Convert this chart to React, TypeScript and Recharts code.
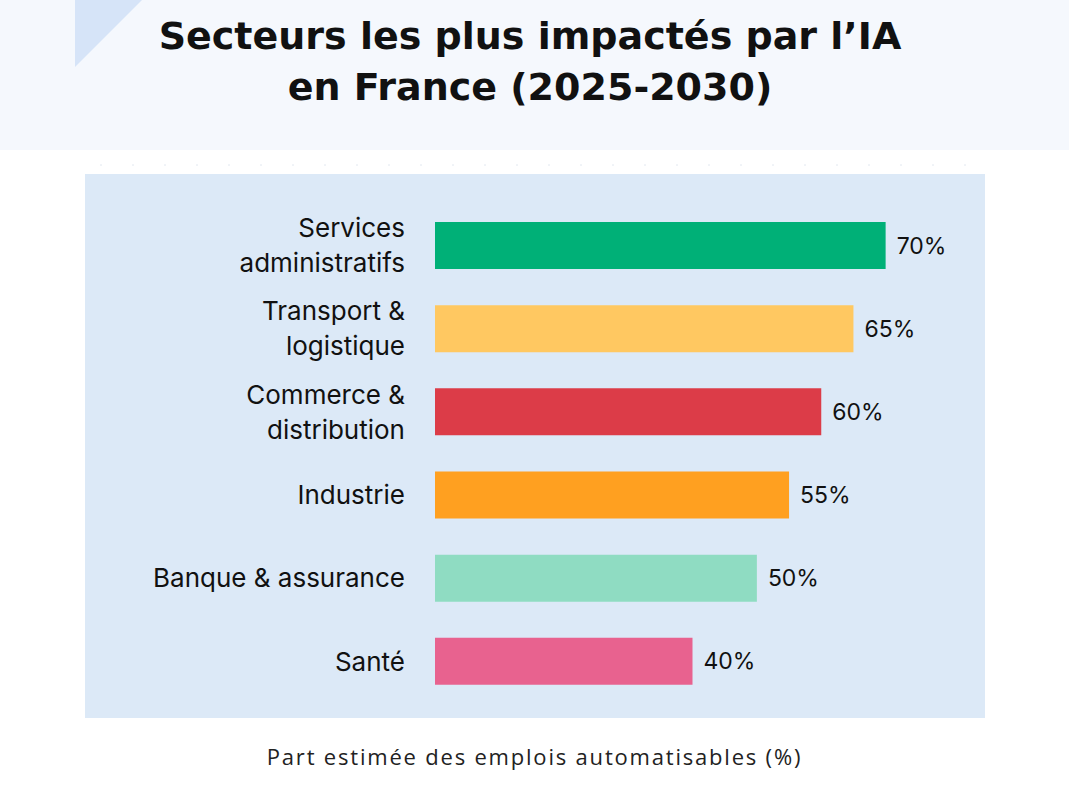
import React from 'react';
import { Bar, BarChart, Cell, LabelList, XAxis, YAxis } from 'recharts';

const sectors = [
  'Services\nadministratifs',
  'Transport &\nlogistique',
  'Commerce &\ndistribution',
  'Industrie',
  'Banque & assurance',
  'Santé',
];
const shares = [70, 65, 60, 55, 50, 40];
const barColors = ['#00b077', '#ffc861', '#dc3c48', '#ffa020', '#8fdcc2', '#e8628f'];

const data = sectors.map((name, i) => ({ name, value: shares[i] }));

const SectorTick = (props: any) => {
  const { x, y, payload } = props;
  const lines: string[] = String(payload.value).split('\n');
  const lineH = 35;
  const start = -((lines.length - 1) * lineH) / 2;
  return (
    <text
      x={x - 22}
      y={y}
      textAnchor="end"
      fontFamily="Inter, sans-serif"
      fontSize={26}
      fill="#111"
    >
      {lines.map((l, i) => (
        <tspan key={i} x={x - 22} y={y + start + i * lineH} dy="0.35em">
          {l}
        </tspan>
      ))}
    </text>
  );
};

export default function App() {
  return (
    <div
      style={{
        position: 'absolute',
        left: 0,
        top: 0,
        width: 1069,
        height: 786,
        background: '#fff',
        overflow: 'hidden',
      }}
    >
      {/* header band */}
      <div style={{ position: 'absolute', left: 0, top: 0, width: 1069, height: 150, background: '#f5f8fd' }} />
      <svg style={{ position: 'absolute', left: 0, top: 0 }} width={200} height={100}>
        <polygon points="75,0 142,0 75,67" fill="#d6e4f8" />
      </svg>
      <div
        style={{
          position: 'absolute',
          left: 0,
          top: 11,
          width: 1060,
          textAlign: 'center',
          fontFamily: '"DejaVu Sans", sans-serif',
          fontWeight: 700,
          fontSize: 38,
          lineHeight: '51px',
          color: '#111',
        }}
      >
        Secteurs les plus impactés par l’IA
        <br />
        en France (2025-2030)
      </div>
      <svg style={{ position: 'absolute', left: 0, top: 160 }} width={1069} height={10}>
        <line x1={100} y1={5} x2={985} y2={5} stroke="#e2e8f0" strokeWidth={1} strokeDasharray="2 30" />
      </svg>

      {/* plot panel */}
      <div style={{ position: 'absolute', left: 85, top: 174, width: 900, height: 544, background: '#dce9f7' }}>
        <BarChart
          width={900}
          height={544}
          data={data}
          layout="vertical"
          margin={{ top: 30, right: 35, bottom: 15, left: 0 }}
        >
          <XAxis type="number" domain={[0, 80]} hide />
          <YAxis
            type="category"
            dataKey="name"
            width={350}
            axisLine={false}
            tickLine={false}
            tick={<SectorTick />}
            interval={0}
          />
          <Bar dataKey="value" barSize={47} isAnimationActive={false}>
            {data.map((d, i) => (
              <Cell key={d.name} fill={barColors[i]} />
            ))}
            <LabelList
              dataKey="value"
              position="right"
              offset={11}
              formatter={(v: any) => `${v}%`}
              style={{ fontFamily: 'Inter, sans-serif', fontSize: 23, fill: '#111' }}
            />
          </Bar>
        </BarChart>
      </div>

      <div
        style={{
          position: 'absolute',
          left: 0,
          top: 741,
          width: 1069,
          textAlign: 'center',
          fontFamily: '"Open Sans", sans-serif',
          fontSize: 22,
          letterSpacing: 1.8,
          color: '#222',
        }}
      >
        Part estimée des emplois automatisables (%)
      </div>
    </div>
  );
}
